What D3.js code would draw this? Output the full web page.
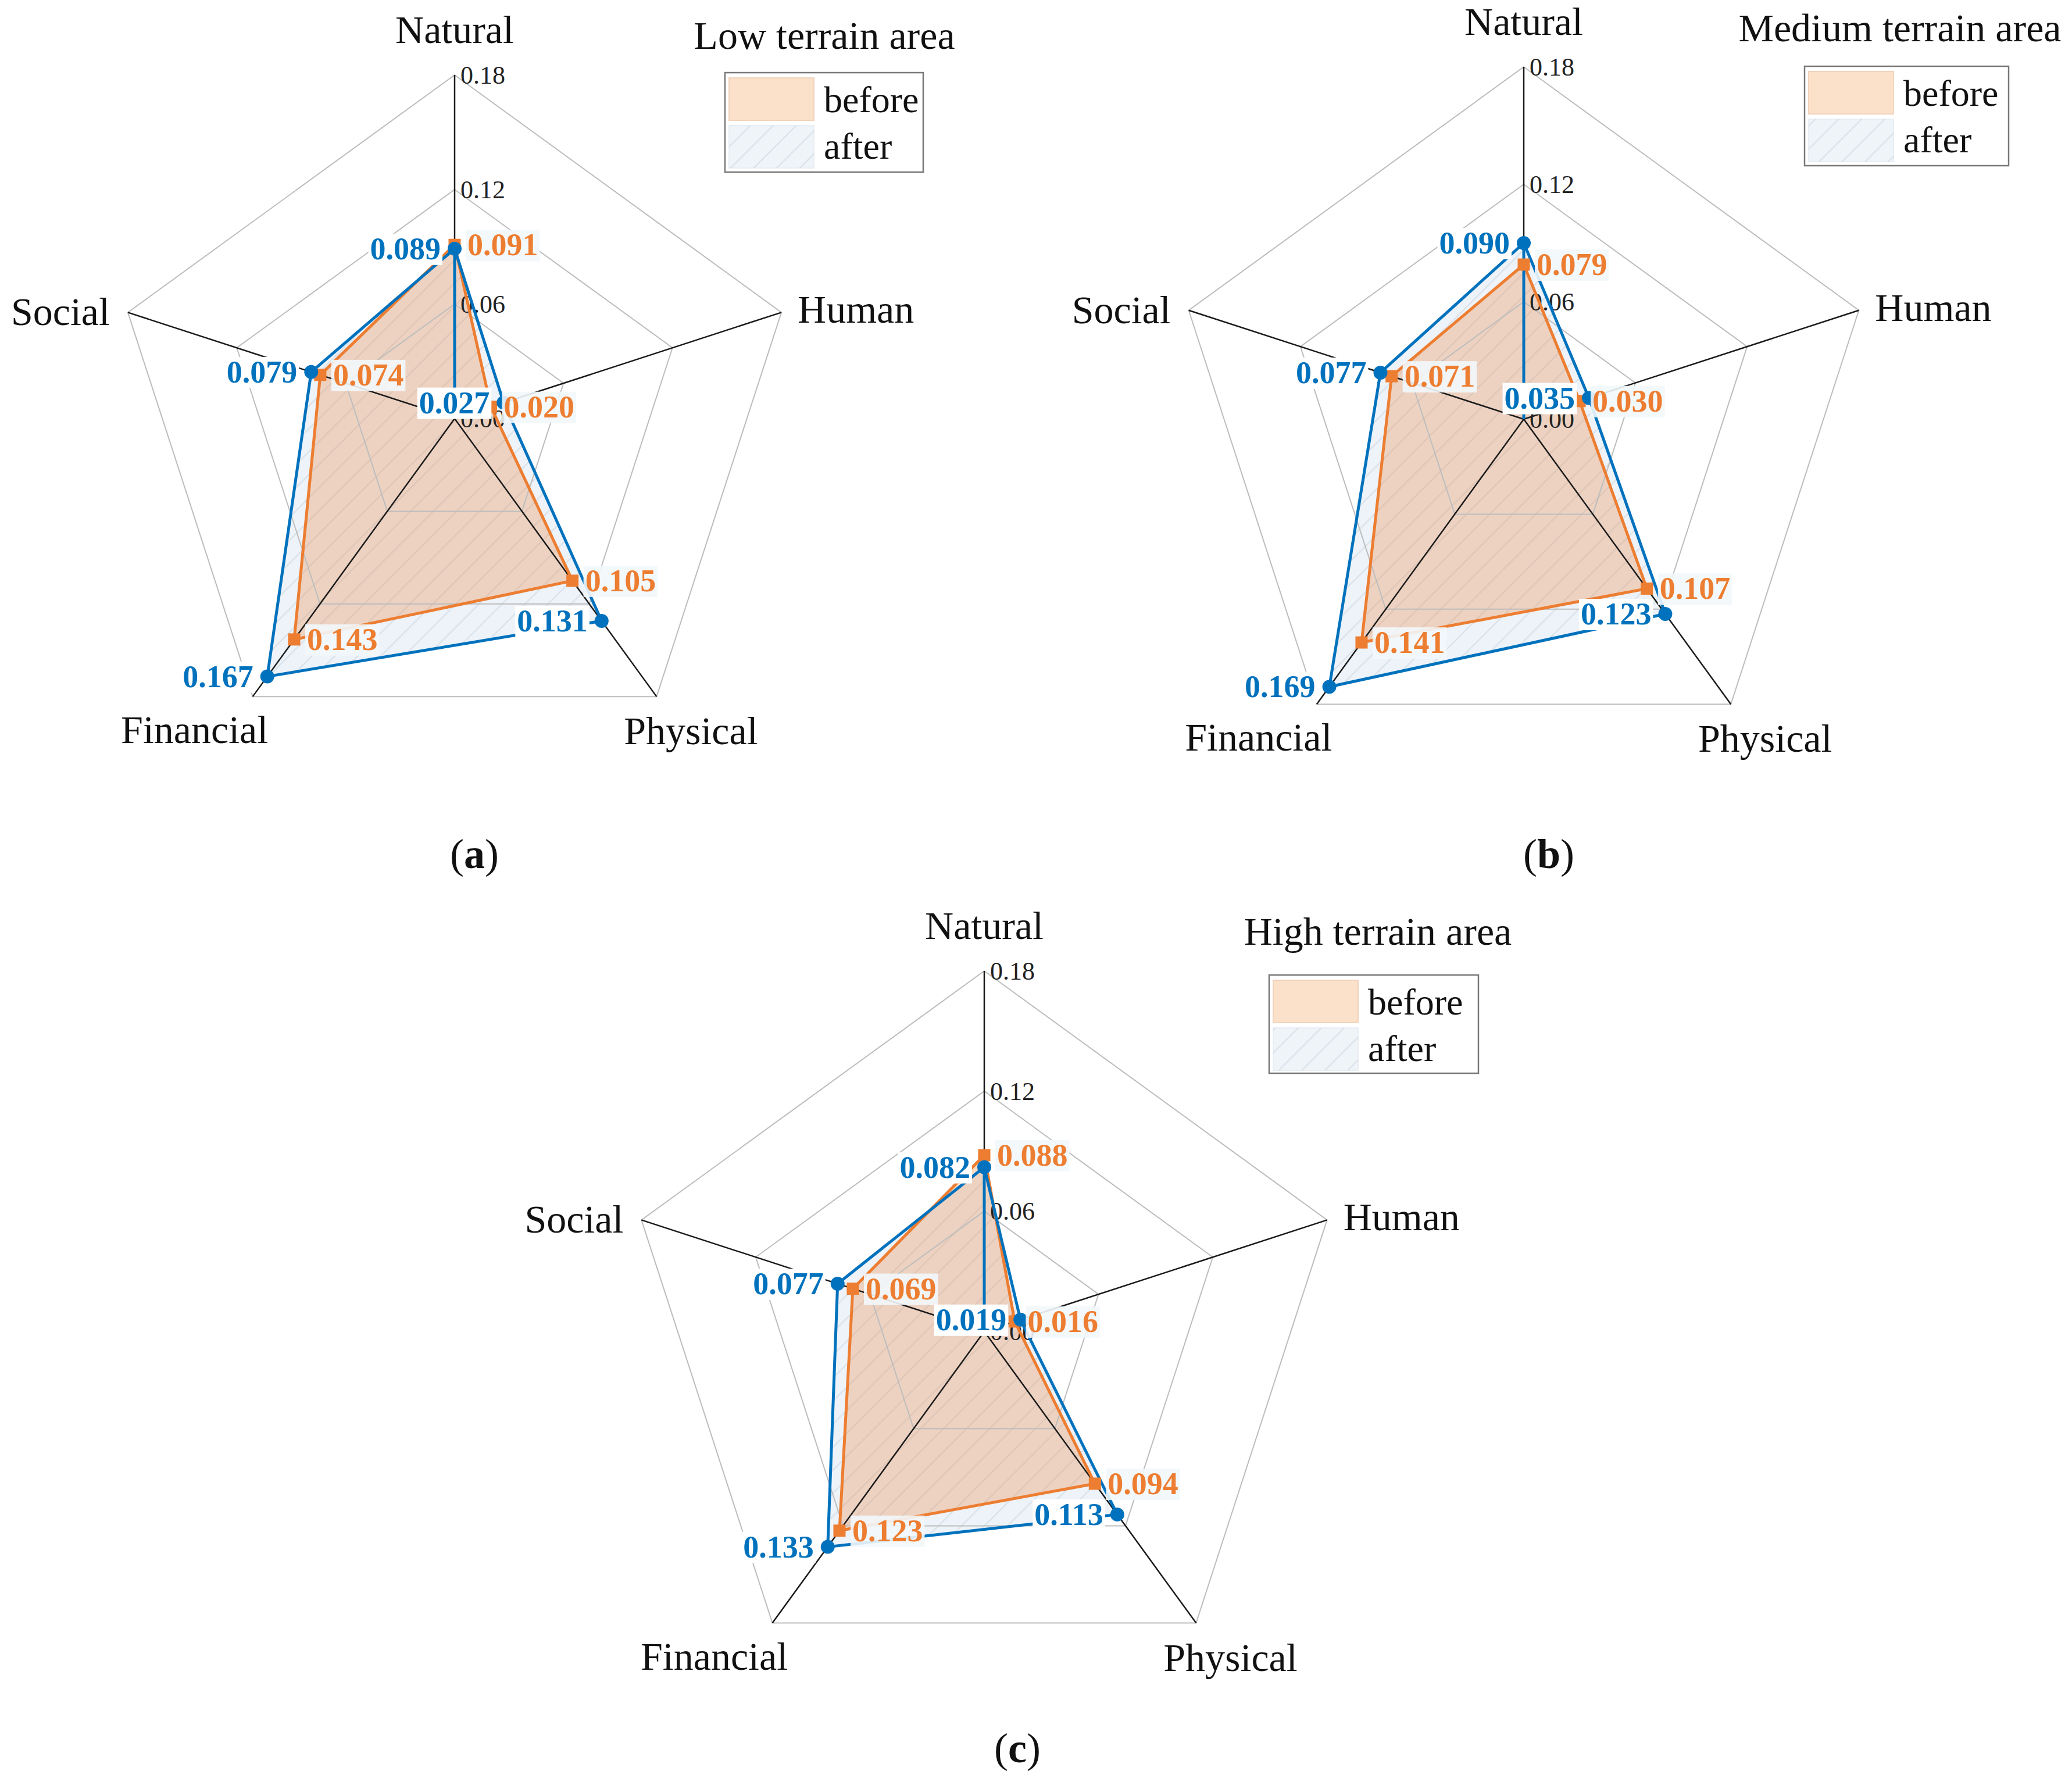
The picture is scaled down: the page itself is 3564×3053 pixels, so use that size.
<!DOCTYPE html>
<html>
<head>
<meta charset="utf-8">
<script src="https://cdn.jsdelivr.net/npm/d3@7"></script>
<style>
  html, body { margin: 0; padding: 0; background: #fff; }
  text { font-family: "Liberation Serif", "Times New Roman", serif; }
</style>
</head>
<body>
<div id="chart"></div>
<script>
const axisNames = ["Natural", "Human", "Physical", "Financial", "Social"];
const tickValues = [0, 0.06, 0.12, 0.18];
const tickLabels = ["0.00", "0.06", "0.12", "0.18"];
const seriesNames = ["before", "after"];
const titles = ["Low terrain area", "Medium terrain area", "High terrain area"];
const captions = ["a", "b", "c"];

const lowBefore = [0.091, 0.020, 0.105, 0.143, 0.074];
const lowAfter = [0.089, 0.027, 0.131, 0.167, 0.079];
const mediumBefore = [0.079, 0.030, 0.107, 0.141, 0.071];
const mediumAfter = [0.090, 0.035, 0.123, 0.169, 0.077];
const highBefore = [0.088, 0.016, 0.094, 0.123, 0.069];
const highAfter = [0.082, 0.019, 0.113, 0.133, 0.077];

const W = 3564, H = 3053;
const orange = "#ED7D31", blue = "#0072BD";

// panel placement
const panels = [
  { cx: 782, cy: 720, R: 591, title: [1418, 84], legend: [1247, 125, 341, 171], caption: [816, 1493], before: lowBefore, after: lowAfter },
  { cx: 2621, cy: 721, R: 606, title: [3268, 71], legend: [3104, 114, 351, 171], caption: [2664, 1493], before: mediumBefore, after: mediumAfter },
  { cx: 1693, cy: 2290, R: 620, title: [2370, 1625], legend: [2183, 1677, 360, 169], caption: [1750, 3031], before: highBefore, after: highAfter }
];

const svg = d3.select("#chart").append("svg")
  .attr("width", W).attr("height", H)
  .attr("viewBox", `0 0 ${W} ${H}`);

const defs = svg.append("defs");
const pat = defs.append("pattern")
  .attr("id", "hatch")
  .attr("patternUnits", "userSpaceOnUse")
  .attr("width", 28).attr("height", 28)
  .attr("patternTransform", "rotate(45)");
pat.append("line")
  .attr("x1", 1).attr("y1", 0).attr("x2", 1).attr("y2", 28)
  .attr("stroke", "rgba(110,130,150,0.16)").attr("stroke-width", 2.5);

const angle = d3.scalePoint().domain(d3.range(axisNames.length)).range([0, 2 * Math.PI * 4 / 5]);

function drawPanel(p, k) {
  const g = svg.append("g");
  const r = d3.scaleLinear().domain([0, 0.18]).range([0, p.R]);
  const pt = (i, v) => [p.cx + r(v) * Math.sin(angle(i)), p.cy - r(v) * Math.cos(angle(i))];
  const idx = d3.range(axisNames.length);
  const poly = vals => "M" + vals.map((v, i) => pt(i, v).join(",")).join("L") + "Z";

  // fills
  g.append("path").attr("d", poly(p.after)).attr("fill", "#EDF3F9");
  g.append("path").attr("d", poly(p.after)).attr("fill", "url(#hatch)");
  g.append("path").attr("d", poly(p.before)).attr("fill", "rgba(237,125,49,0.28)");

  // grid rings
  tickValues.slice(1).forEach(t => {
    g.append("path")
      .attr("d", poly(idx.map(() => t)))
      .attr("fill", "none").attr("stroke", "#BDBDBD").attr("stroke-width", 2);
  });

  // spokes
  idx.forEach(i => {
    const [x, y] = pt(i, 0.18);
    g.append("line").attr("x1", p.cx).attr("y1", p.cy).attr("x2", x).attr("y2", y)
      .attr("stroke", "#1a1a1a").attr("stroke-width", 2.5);
  });

  // tick labels
  tickValues.forEach((t, j) => {
    g.append("text").attr("x", p.cx + 10).attr("y", p.cy - r(t) + 15)
      .attr("font-size", 44).attr("fill", "#222").text(tickLabels[j]);
  });

  // outlines
  g.append("path").attr("d", poly(p.before)).attr("fill", "none")
    .attr("stroke", orange).attr("stroke-width", 5).attr("stroke-linejoin", "round");
  const [nx, ny] = pt(0, p.after[0]);
  g.append("line").attr("x1", p.cx).attr("y1", p.cy).attr("x2", nx).attr("y2", ny)
    .attr("stroke", blue).attr("stroke-width", 5);
  g.append("path").attr("d", poly(p.after)).attr("fill", "none")
    .attr("stroke", blue).attr("stroke-width", 5).attr("stroke-linejoin", "round");

  // markers
  p.before.forEach((v, i) => {
    const [x, y] = pt(i, v);
    g.append("rect").attr("x", x - 10.5).attr("y", y - 10.5).attr("width", 21).attr("height", 21).attr("fill", orange);
  });
  p.after.forEach((v, i) => {
    const [x, y] = pt(i, v);
    g.append("circle").attr("cx", x).attr("cy", y).attr("r", 12).attr("fill", blue);
  });

  // value labels
  function valueLabel(x, y, txt, anchor, color, bg) {
    const t = g.append("text").attr("x", x).attr("y", y + 18)
      .attr("text-anchor", anchor).attr("font-size", 54).attr("font-weight", "bold")
      .attr("fill", color).text(txt);
    const b = t.node().getBBox();
    g.insert("rect", () => t.node())
      .attr("x", b.x - 3).attr("y", b.y + 4).attr("width", b.width + 6).attr("height", b.height - 6)
      .attr("fill", bg);
  }
  p.before.forEach((v, i) => {
    const [x, y] = pt(i, v);
    valueLabel(x + 22, y, v.toFixed(3), "start", orange, "rgba(242,247,251,0.9)");
  });
  p.after.forEach((v, i) => {
    const [x, y] = pt(i, v);
    valueLabel(x - 24, y, v.toFixed(3), "end", blue, "#FFFFFF");
  });

  // axis labels
  const lab = (i, dx, dy, anchor) => {
    const [x, y] = pt(i, 0.18);
    g.append("text").attr("x", x + dx).attr("y", y + dy).attr("text-anchor", anchor)
      .attr("font-size", 68).attr("fill", "#111").text(axisNames[i]);
  };
  lab(0, 0, -55, "middle");
  lab(1, 28, 18, "start");
  lab(2, 59, 82, "middle");
  lab(3, -100, 80, "middle");
  lab(4, -31, 22, "end");

  // title
  g.append("text").attr("x", p.title[0]).attr("y", p.title[1]).attr("text-anchor", "middle")
    .attr("font-size", 68).attr("fill", "#111").text(titles[k]);

  // legend
  const [lx, ly, lw, lh] = p.legend;
  const lg = g.append("g");
  lg.append("rect").attr("x", lx).attr("y", ly).attr("width", lw).attr("height", lh)
    .attr("fill", "#fff").attr("stroke", "#777").attr("stroke-width", 2.5);
  lg.append("rect").attr("x", lx + 7).attr("y", ly + 9).attr("width", 146).attr("height", 73)
    .attr("fill", "#FBE0CA").attr("stroke", "#F1D3BC").attr("stroke-width", 2);
  lg.append("rect").attr("x", lx + 7).attr("y", ly + 91).attr("width", 146).attr("height", 73)
    .attr("fill", "#EFF4F9").attr("stroke", "#E8EEF4").attr("stroke-width", 2);
  lg.append("rect").attr("x", lx + 7).attr("y", ly + 91).attr("width", 146).attr("height", 73)
    .attr("fill", "url(#hatch)");
  seriesNames.forEach((s, j) => {
    lg.append("text").attr("x", lx + 170).attr("y", ly + 68 + j * 80)
      .attr("font-size", 64).attr("fill", "#111").text(s);
  });

  // caption
  const cap = g.append("text").attr("x", p.caption[0]).attr("y", p.caption[1])
    .attr("text-anchor", "middle").attr("font-size", 72).attr("fill", "#111");
  cap.append("tspan").text("(");
  cap.append("tspan").attr("font-weight", "bold").text(captions[k]);
  cap.append("tspan").text(")");
}

panels.forEach(drawPanel);
</script>
</body>
</html>
